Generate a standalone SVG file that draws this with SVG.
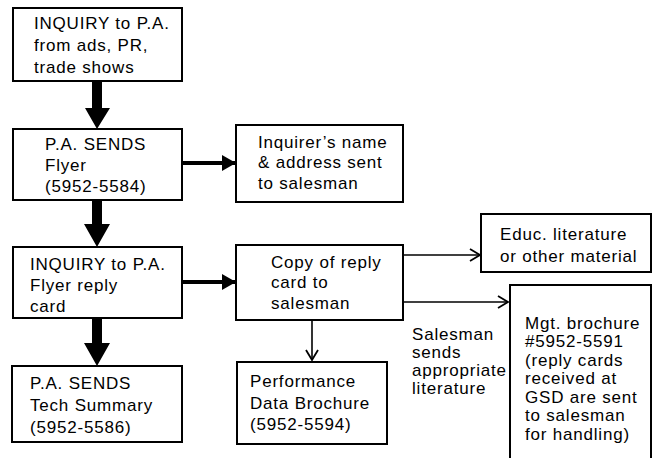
<svg xmlns="http://www.w3.org/2000/svg" width="654" height="458" viewBox="0 0 654 458">
<defs>
<style>
.box{fill:#fff;stroke:#000;stroke-width:2}
.t{font-family:"Liberation Sans",Arial,sans-serif;font-size:17px;letter-spacing:0.8px;fill:#000}
.thick{fill:#000}
.h{stroke:#000;stroke-width:4;fill:none}
.thin{stroke:#000;stroke-width:1.6;fill:none}
</style>
<marker id="open" markerWidth="14" markerHeight="14" refX="12" refY="7" orient="auto" markerUnits="userSpaceOnUse">
<path d="M2,1 L12,7 L2,13" fill="none" stroke="#000" stroke-width="1.8"/>
</marker>
<marker id="solid" markerWidth="16" markerHeight="18" refX="14" refY="9" orient="auto" markerUnits="userSpaceOnUse">
<path d="M0,1 L14,9 L0,17 Z" fill="#000"/>
</marker>
</defs>
<rect width="654" height="458" fill="#fff"/>
<g id="connectors">
<path class="thick" d="M92,81 H102 V108 H110 L97,129 L85,108 H92 Z"/>
<path class="thick" d="M92,200 H102 V224 H110 L97,247 L84,224 H92 Z"/>
<path class="thick" d="M92,318 H102 V343 H110 L97,366 L84,343 H92 Z"/>
<line class="h" x1="182" y1="163" x2="236" y2="163" marker-end="url(#solid)"/>
<line class="h" x1="182" y1="282" x2="236" y2="282" marker-end="url(#solid)"/>
<line class="thin" x1="403" y1="255" x2="480" y2="255" marker-end="url(#open)"/>
<line class="thin" x1="403" y1="302" x2="508" y2="302" marker-end="url(#open)"/>
<line class="thin" x1="312" y1="320" x2="312" y2="360" marker-end="url(#open)"/>
</g>
<g id="n1"><rect class="box" x="13" y="8" width="169" height="73"/>
<text class="t" x="34" y="29">INQUIRY to P.A.</text><text class="t" x="34" y="51">from ads, PR,</text><text class="t" x="34" y="73">trade shows</text></g>
<g id="n2"><rect class="box" x="13" y="129" width="169" height="71"/>
<text class="t" x="45" y="150">P.A. SENDS</text><text class="t" x="45" y="171">Flyer</text><text class="t" x="45" y="192">(5952-5584)</text></g>
<g id="n3"><rect class="box" x="13" y="247" width="169" height="71"/>
<text class="t" x="30" y="270">INQUIRY to P.A.</text><text class="t" x="30" y="291">Flyer reply</text><text class="t" x="30" y="312">card</text></g>
<g id="n4"><rect class="box" x="12" y="366" width="170" height="76"/>
<text class="t" x="30" y="389">P.A. SENDS</text><text class="t" x="30" y="411">Tech Summary</text><text class="t" x="30" y="433">(5952-5586)</text></g>
<g id="n5"><rect class="box" x="236" y="125" width="167" height="77"/>
<text class="t" x="258" y="148">Inquirer’s name</text><text class="t" x="258" y="168">&amp; address sent</text><text class="t" x="258" y="189">to salesman</text></g>
<g id="n6"><rect class="box" x="236" y="245" width="167" height="75"/>
<text class="t" x="271" y="268">Copy of reply</text><text class="t" x="271" y="288">card to</text><text class="t" x="271" y="309">salesman</text></g>
<g id="n7"><rect class="box" x="237" y="362" width="150" height="82"/>
<text class="t" x="250" y="387">Performance</text><text class="t" x="250" y="409">Data Brochure</text><text class="t" x="250" y="430">(5952-5594)</text></g>
<g id="n8"><rect class="box" x="481" y="214" width="170" height="58"/>
<text class="t" x="500" y="240">Educ. literature</text><text class="t" x="500" y="262">or other material</text></g>
<g id="n9"><rect class="box" x="510" y="285" width="141" height="180"/>
<text class="t" x="525" y="329">Mgt. brochure</text><text class="t" x="525" y="347">#5952-5591</text><text class="t" x="525" y="366">(reply cards</text><text class="t" x="525" y="384">received at</text><text class="t" x="525" y="403">GSD are sent</text><text class="t" x="525" y="421">to salesman</text><text class="t" x="525" y="440">for handling)</text></g>
<g id="label"><text class="t" x="412" y="340">Salesman</text><text class="t" x="412" y="358">sends</text><text class="t" x="412" y="376">appropriate</text><text class="t" x="412" y="394">literature</text></g>
</svg>
